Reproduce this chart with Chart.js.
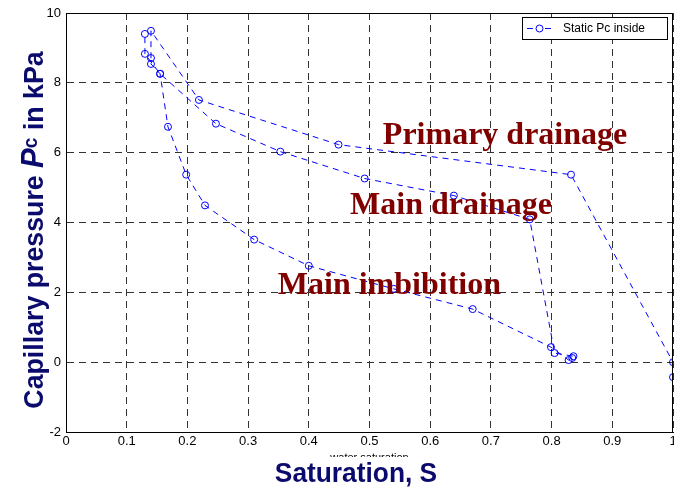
<!DOCTYPE html>
<html>
<head>
<meta charset="utf-8">
<script src="https://cdn.jsdelivr.net/npm/chart.js@4"></script>
<style>
  html, body { margin: 0; padding: 0; background: #fff; }
  #wrap { width: 674px; height: 493px; }
</style>
</head>
<body>
<div id="wrap"><canvas id="pcChart" width="674" height="493"></canvas></div>
<script>
// water saturation S and static capillary pressure Pc (kPa), in measurement order:
// primary drainage, main imbibition, then main drainage
const saturation = [1.000, 1.000, 0.832, 0.449, 0.219, 0.140,
    0.140, 0.140, 0.155, 0.168, 0.198, 0.229, 0.310, 0.400, 0.540, 0.670, 0.799, 0.828, 0.834,
    0.836, 0.805, 0.764, 0.639, 0.492, 0.353, 0.247, 0.155, 0.130, 0.130];
const pcInside = [-0.43, 0.00, 5.37, 6.23, 7.51, 9.49,
    8.71, 8.54, 8.26, 6.74, 5.37, 4.49, 3.51, 2.76, 2.10, 1.52, 0.43, 0.06, 0.12,
    0.17, 0.26, 4.09, 4.77, 5.26, 6.03, 6.83, 8.26, 8.83, 9.40];

const xTicks = [0, 0.1, 0.2, 0.3, 0.4, 0.5, 0.6, 0.7, 0.8, 0.9, 1];
const yTicks = [-2, 0, 2, 4, 6, 8, 10];

// curve names, anchored at (S, Pc) of their left baseline
const curveNames = ["Primary drainage", "Main drainage", "Main imbibition"];
const curveNameS = [0.522, 0.468, 0.349];
const curveNamePc = [6.25, 4.24, 1.95];

const seriesName = "Static Pc inside";

const navy = "#0b0b6e";
const maroon = "#800000";
const blue = "#0000ff";
const tickFont = { family: "'Liberation Sans', Arial, sans-serif", size: 13 };
const titleFace = "'Liberation Sans', Arial, sans-serif";

const points = saturation.map((s, i) => ({ x: s, y: pcInside[i] }));

const decorations = {
    id: "decorations",
    afterDraw(chart) {
        const { ctx, chartArea: a, scales } = chart;
        ctx.save();

        // solid frame on top and right
        ctx.strokeStyle = "#000";
        ctx.lineWidth = 1;
        ctx.beginPath();
        ctx.moveTo(Math.round(a.left) + 0.5, Math.round(a.top) + 0.5);
        ctx.lineTo(Math.round(a.right) - 0.5, Math.round(a.top) + 0.5);
        ctx.lineTo(Math.round(a.right) - 0.5, Math.round(a.bottom) + 0.5);
        ctx.stroke();

        // curve names
        ctx.fillStyle = maroon;
        ctx.font = "bold 32px 'Liberation Serif', 'Times New Roman', serif";
        ctx.textBaseline = "alphabetic";
        ctx.textAlign = "left";
        curveNames.forEach((t, i) => {
            ctx.fillText(t, scales.x.getPixelForValue(curveNameS[i]), scales.y.getPixelForValue(curveNamePc[i]));
        });

        // legend box
        const lx = a.right - 151, ly = a.top + 4, lw = 145, lh = 22;
        ctx.fillStyle = "#fff";
        ctx.fillRect(lx, ly, lw, lh);
        ctx.strokeStyle = "#000";
        ctx.strokeRect(lx + 0.5, ly + 0.5, lw, lh);
        ctx.strokeStyle = blue;
        ctx.setLineDash([6, 3]);
        ctx.beginPath();
        ctx.moveTo(lx + 5, ly + 11.5);
        ctx.lineTo(lx + 31, ly + 11.5);
        ctx.stroke();
        ctx.setLineDash([]);
        ctx.fillStyle = "#fff";
        ctx.beginPath();
        ctx.arc(lx + 17.5, ly + 11.5, 3.5, 0, Math.PI * 2);
        ctx.fill();
        ctx.stroke();
        ctx.fillStyle = "#000";
        ctx.font = "12px 'Liberation Sans', Arial, sans-serif";
        ctx.textBaseline = "middle";
        ctx.fillText(seriesName, lx + 41, ly + 12);

        // small axis label, partly hidden under the big title
        ctx.save();
        ctx.beginPath();
        ctx.rect(0, 450, 674, 7);
        ctx.clip();
        ctx.fillStyle = "#000";
        ctx.font = "11px 'Liberation Sans', Arial, sans-serif";
        ctx.textAlign = "center";
        ctx.textBaseline = "alphabetic";
        ctx.fillText("water saturation", (a.left + a.right) / 2, 461);
        ctx.restore();

        // x title, slightly condensed
        ctx.save();
        ctx.fillStyle = navy;
        ctx.textAlign = "center";
        ctx.textBaseline = "alphabetic";
        ctx.font = "bold 28px " + titleFace;
        ctx.translate(356, 482);
        ctx.scale(0.94, 1);
        ctx.fillText("Saturation, S", 0, 0);
        ctx.restore();

        // y title with italic P and small c
        const parts = [
            { t: "Capillary pressure ", f: "bold 28px " + titleFace, dy: 0 },
            { t: "P", f: "italic bold 31px " + titleFace, dy: 0 },
            { t: "c", f: "bold 20px " + titleFace, dy: -6 },
            { t: " in kPa", f: "bold 28px " + titleFace, dy: 0 }
        ];
        let total = 0;
        parts.forEach(p => { ctx.font = p.f; p.w = ctx.measureText(p.t).width; total += p.w; });
        ctx.fillStyle = navy;
        ctx.translate(43, 230);
        ctx.rotate(-Math.PI / 2);
        ctx.scale(0.955, 1);
        ctx.textAlign = "left";
        ctx.textBaseline = "alphabetic";
        let x0 = -total / 2;
        parts.forEach(p => {
            ctx.font = p.f;
            ctx.fillText(p.t, x0, p.dy);
            x0 += p.w;
        });

        ctx.restore();
    }
};

new Chart(document.getElementById("pcChart"), {
    type: "scatter",
    data: {
        datasets: [{
            label: seriesName,
            data: points,
            showLine: true,
            borderColor: blue,
            borderWidth: 1,
            borderDash: [6, 5],
            pointRadius: 3.5,
            pointHoverRadius: 3.5,
            pointBorderWidth: 1,
            pointBorderColor: blue,
            pointBackgroundColor: "rgba(0,0,0,0)",
            tension: 0
        }]
    },
    options: {
        responsive: false,
        animation: false,
        events: [],
        layout: { autoPadding: false, padding: { top: 13, right: 1, left: 0, bottom: 0 } },
        plugins: {
            legend: { display: false },
            tooltip: { enabled: false }
        },
        scales: {
            x: {
                type: "linear",
                min: 0,
                max: 1,
                afterBuildTicks: scale => { scale.ticks = xTicks.map(v => ({ value: v })); },
                afterFit: scale => {
                    scale.height = 61;
                    scale.paddingLeft = 0;
                    scale.paddingRight = 0;
                },
                ticks: {
                    color: "#000",
                    font: tickFont,
                    padding: 2,
                    maxRotation: 0,
                    autoSkip: false,
                    callback: v => String(Number(v.toFixed(1)))
                },
                grid: { color: "#333", lineWidth: 1, drawTicks: false },
                border: { display: true, color: "#000", width: 1, dash: [7, 5] }
            },
            y: {
                type: "linear",
                min: -2,
                max: 10,
                afterBuildTicks: scale => { scale.ticks = yTicks.map(v => ({ value: v })); },
                afterFit: scale => {
                    scale.width = 66;
                    scale.paddingTop = 0;
                    scale.paddingBottom = 0;
                },
                ticks: {
                    color: "#000",
                    font: tickFont,
                    padding: 5,
                    autoSkip: false
                },
                grid: { color: "#333", lineWidth: 1, drawTicks: false },
                border: { display: true, color: "#000", width: 1, dash: [7, 5] }
            }
        }
    },
    plugins: [decorations]
});
</script>
</body>
</html>
